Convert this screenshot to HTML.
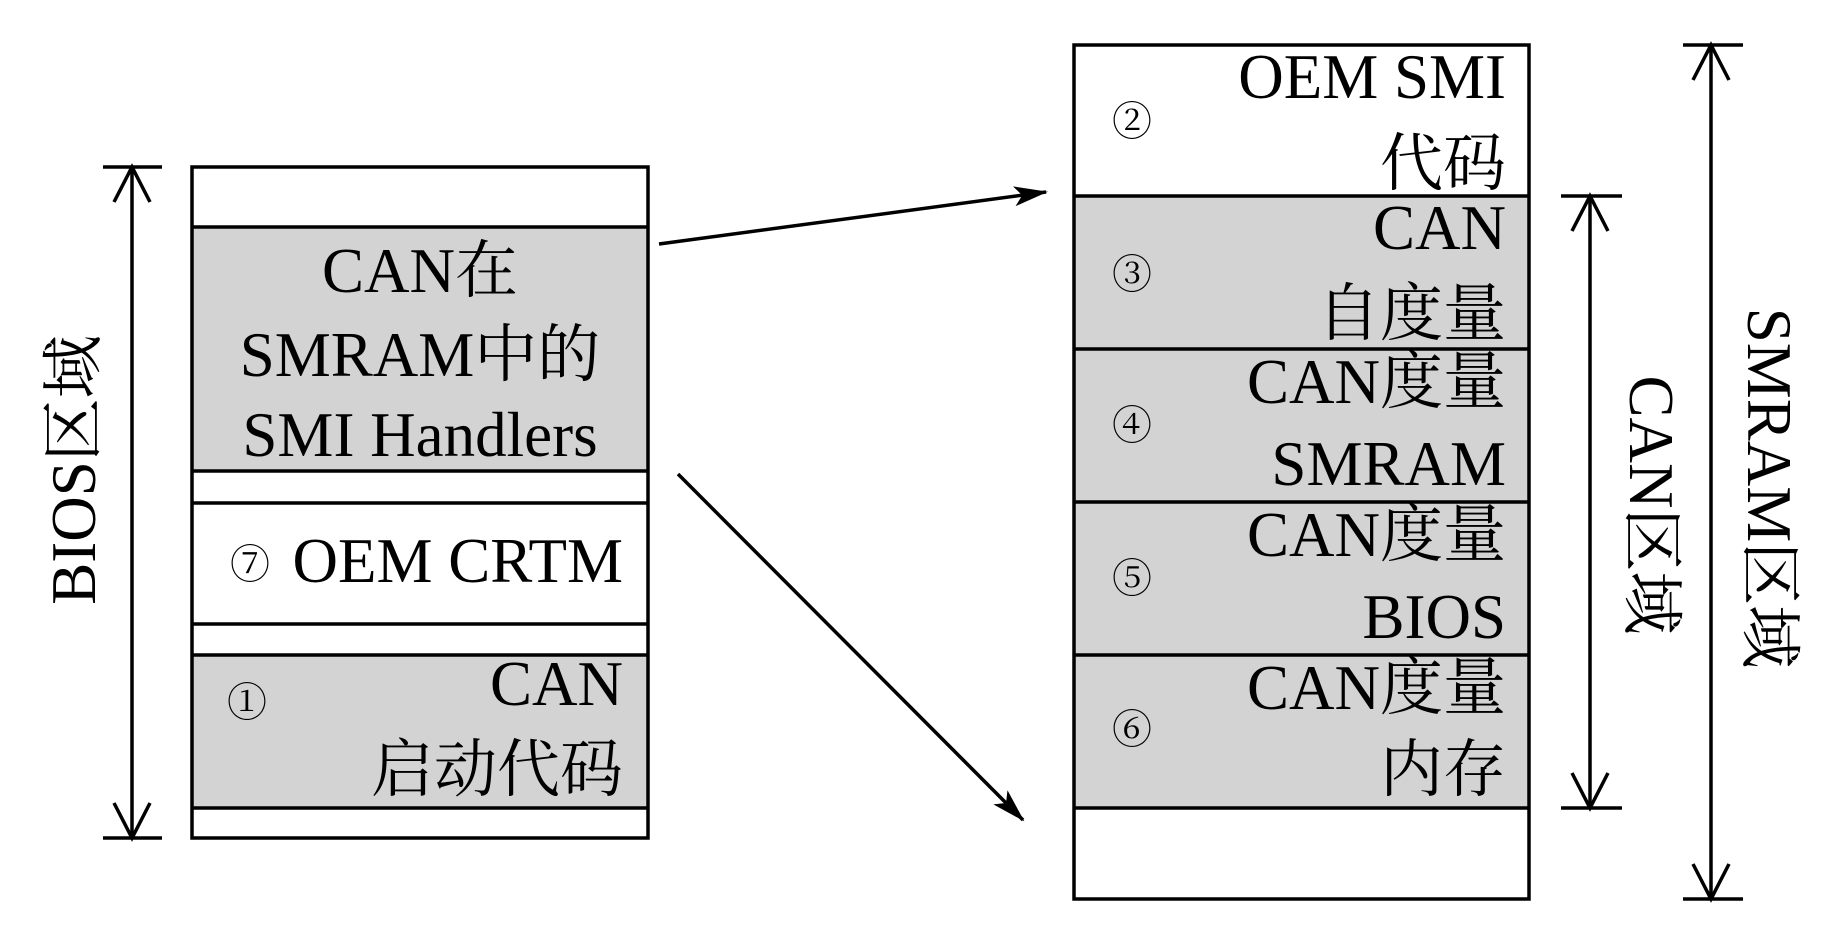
<!DOCTYPE html>
<html><head><meta charset="utf-8"><style>
html,body{margin:0;padding:0;background:#fff;}
svg{display:block;}
text{font-family:"Liberation Serif","Noto Serif CJK SC","Noto Sans CJK SC",serif;font-size:63px;fill:#000;}
.c{font-family:"Noto Serif CJK SC","Liberation Serif",serif;font-size:40px;}
</style></head><body>
<svg width="1843" height="945" viewBox="0 0 1843 945" xmlns="http://www.w3.org/2000/svg">
<defs><marker id="ah" markerWidth="34" markerHeight="24" refX="32" refY="12" orient="auto" markerUnits="userSpaceOnUse" viewBox="0 0 34 24"><path d="M0,2 L34,12 L0,22 L8,12 z" fill="#000"/></marker></defs>
<g stroke="#000" stroke-width="3.5" fill="none">
<rect x="192" y="228" width="456" height="243" fill="#d3d3d3" stroke="none"/>
<rect x="192" y="655" width="456" height="153" fill="#d3d3d3" stroke="none"/>
<rect x="192" y="167" width="456" height="671"/>
<line x1="192" y1="227" x2="648" y2="227"/>
<line x1="192" y1="471" x2="648" y2="471"/>
<line x1="192" y1="503" x2="648" y2="503"/>
<line x1="192" y1="624" x2="648" y2="624"/>
<line x1="192" y1="655" x2="648" y2="655"/>
<line x1="192" y1="808" x2="648" y2="808"/>
<rect x="1074" y="196" width="455" height="612" fill="#d3d3d3" stroke="none"/>
<rect x="1074" y="45" width="455" height="854"/>
<line x1="1074" y1="196" x2="1529" y2="196"/>
<line x1="1074" y1="349" x2="1529" y2="349"/>
<line x1="1074" y1="502" x2="1529" y2="502"/>
<line x1="1074" y1="655" x2="1529" y2="655"/>
<line x1="1074" y1="808" x2="1529" y2="808"/>
<line x1="103" y1="167" x2="162" y2="167"/><line x1="103" y1="838" x2="162" y2="838"/>
<line x1="132" y1="167" x2="132" y2="838"/>
<polyline points="114,202 132,167 150,202"/><polyline points="114,803 132,838 150,803"/>
<line x1="1561" y1="196" x2="1622" y2="196"/><line x1="1561" y1="808" x2="1622" y2="808"/>
<line x1="1590" y1="196" x2="1590" y2="808"/>
<polyline points="1572,231 1590,196 1608,231"/><polyline points="1572,773 1590,808 1608,773"/>
<line x1="1683" y1="45" x2="1743" y2="45"/><line x1="1683" y1="899" x2="1743" y2="899"/>
<line x1="1711" y1="45" x2="1711" y2="899"/>
<polyline points="1693,80 1711,45 1729,80"/><polyline points="1693,864 1711,899 1729,864"/>
<line x1="659" y1="244" x2="1046" y2="192" marker-end="url(#ah)"/>
<line x1="678" y1="474" x2="1023" y2="820" marker-end="url(#ah)"/>
</g>
<text x="420" y="292" text-anchor="middle">CAN在</text>
<text x="420" y="376" text-anchor="middle">SMRAM中的</text>
<text x="420" y="456" text-anchor="middle">SMI Handlers</text>
<text class="c" x="250" y="578" text-anchor="middle">⑦</text>
<text x="623" y="582" text-anchor="end">OEM CRTM</text>
<text class="c" x="247" y="716" text-anchor="middle">①</text>
<text x="623" y="705" text-anchor="end">CAN</text>
<text x="623" y="791" text-anchor="end">启动代码</text>
<text x="1506" y="98" text-anchor="end">OEM SMI</text>
<text x="1506" y="185" text-anchor="end">代码</text>
<text x="1506" y="249" text-anchor="end">CAN</text>
<text x="1506" y="335" text-anchor="end">自度量</text>
<text x="1506" y="403" text-anchor="end">CAN度量</text>
<text x="1506" y="485" text-anchor="end">SMRAM</text>
<text x="1506" y="556" text-anchor="end">CAN度量</text>
<text x="1506" y="638" text-anchor="end">BIOS</text>
<text x="1506" y="709" text-anchor="end">CAN度量</text>
<text x="1506" y="791" text-anchor="end">内存</text>
<text class="c" x="1132" y="135" text-anchor="middle">②</text>
<text class="c" x="1132" y="288" text-anchor="middle">③</text>
<text class="c" x="1132" y="439" text-anchor="middle">④</text>
<text class="c" x="1132" y="592" text-anchor="middle">⑤</text>
<text class="c" x="1132" y="743" text-anchor="middle">⑥</text>
<text transform="translate(95,470) rotate(-90)" text-anchor="middle">BIOS区域</text>
<text transform="translate(1630,505) rotate(90)" text-anchor="middle">CAN区域</text>
<text transform="translate(1748,488) rotate(90)" text-anchor="middle">SMRAM区域</text>
</svg>
</body></html>
